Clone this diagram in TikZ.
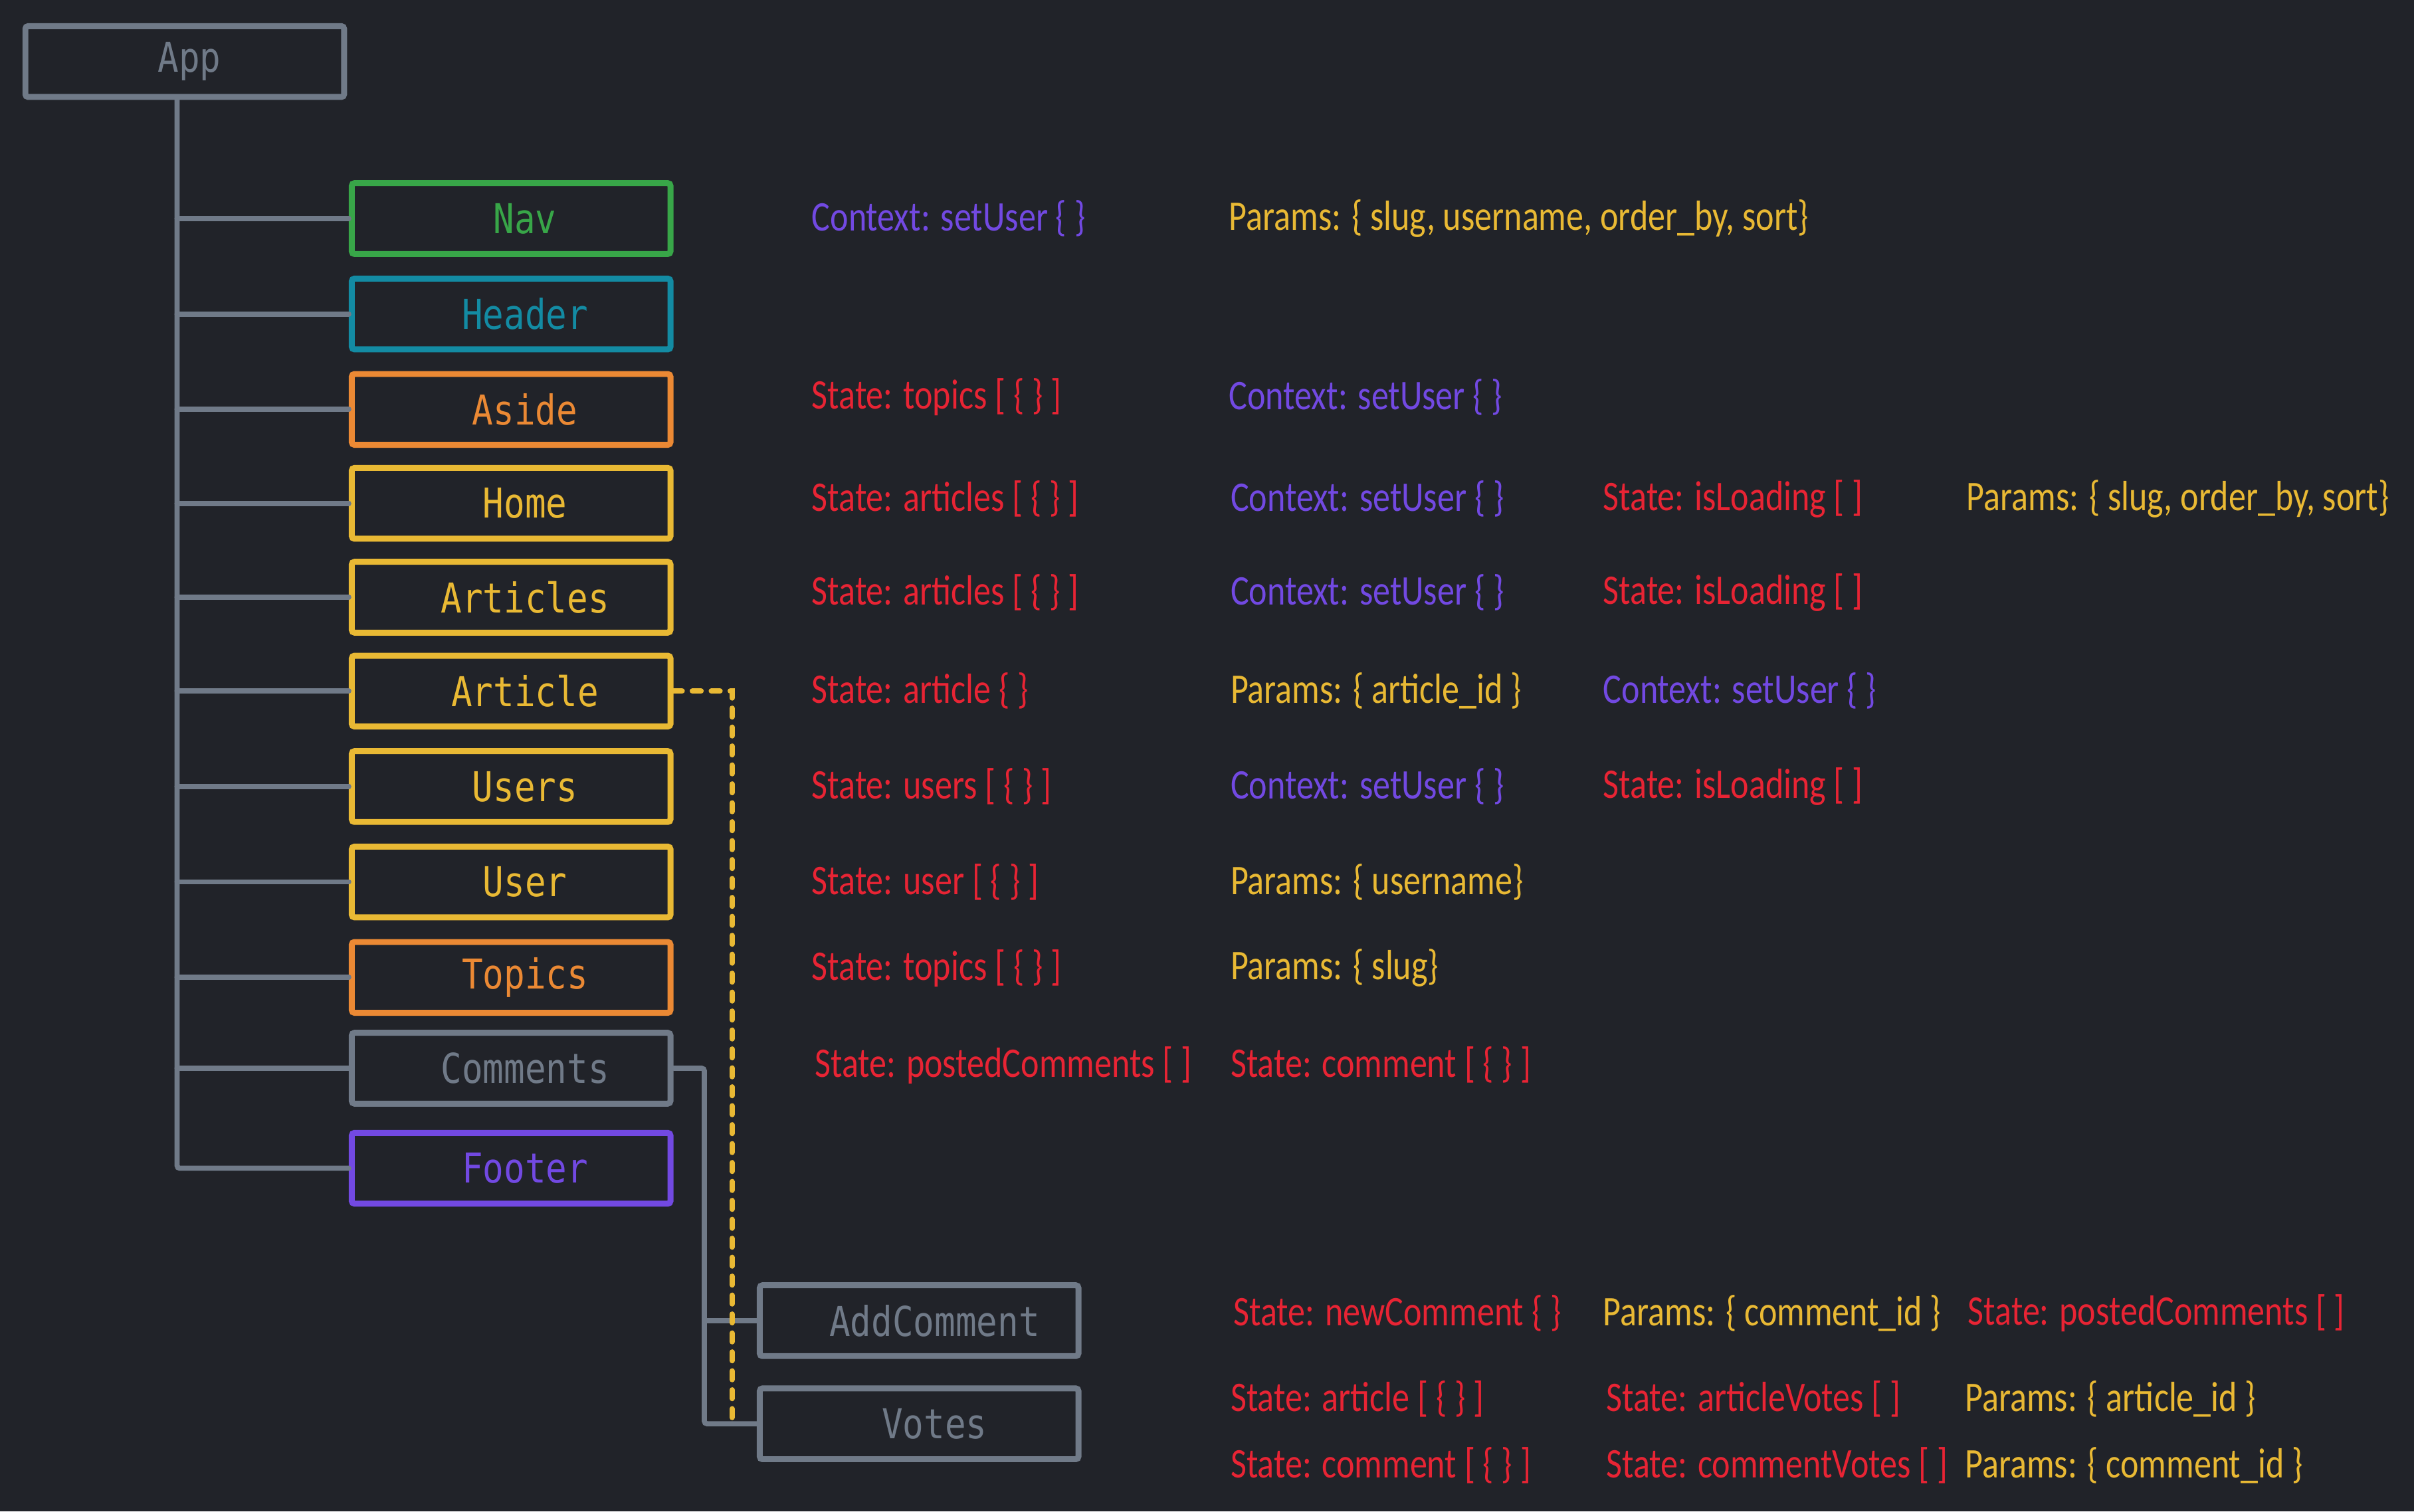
\documentclass[tikz,border=0pt]{standalone}
\usepackage{fontspec}
\setmainfont{Carlito}[FakeStretch=0.82]
\newfontfamily\boxfont{DejaVu Sans Mono}[FakeStretch=0.85]
\usepackage{tikz}
\usetikzlibrary{positioning, calc}
\definecolor{bgdark}{RGB}{33,35,41}
\definecolor{slategrey}{RGB}{112,122,136}
\definecolor{navgreen}{RGB}{56,166,72}
\definecolor{headerteal}{RGB}{19,139,163}
\definecolor{pageorange}{RGB}{235,137,52}
\definecolor{viewyellow}{RGB}{233,185,52}
\definecolor{ctxpurple}{RGB}{114,73,226}
\definecolor{statered}{RGB}{232,36,52}

\begin{document}
\begin{tikzpicture}[
    comp/.style={rectangle, line width=2.2pt, rounded corners=1pt,
                 minimum width=4.14cm, minimum height=0.92cm, inner sep=0pt,
                 font=\boxfont\fontsize{15.2}{16}\selectfont,
                 execute at begin node={\hspace*{#1}}},
    comp/.default=0.36cm,
    link/.style={draw=slategrey, line width=1.9pt, line cap=round, rounded corners=1pt},
    passdown/.style={draw=viewyellow, line width=2pt, line cap=round,
                     dash pattern=on 3.2pt off 3.8pt},
    prop lbl/.style={anchor=west, inner sep=0pt, font=\fontsize{15.6}{17}\selectfont},
    state lbl/.style={prop lbl, text=statered},
    ctx lbl/.style={prop lbl, text=ctxpurple},
    param lbl/.style={prop lbl, text=viewyellow},
  ]

  % ============ CANVAS ============
  \fill[bgdark] (0,0) rectangle (31.36,-19.64);
  \useasboundingbox (0,0) rectangle (31.36,-19.64);

  % ============ COMPONENT TREE ============
  \node[comp=0.12cm, draw=slategrey, text=slategrey] (app) at (2.4,-0.8) {App};

  \node[comp, draw=navgreen, text=navgreen]       (nav)      at (6.64,-2.84)  {Nav};
  \node[comp, draw=headerteal, text=headerteal]   (header)   at (6.64,-4.08)  {Header};
  \node[comp, draw=pageorange, text=pageorange]   (aside)    at (6.64,-5.32)  {Aside};
  \node[comp, draw=viewyellow, text=viewyellow]   (home)     at (6.64,-6.54)  {Home};
  \node[comp, draw=viewyellow, text=viewyellow]   (articles) at (6.64,-7.76)  {Articles};
  \node[comp, draw=viewyellow, text=viewyellow]   (article)  at (6.64,-8.98)  {Article};
  \node[comp, draw=viewyellow, text=viewyellow]   (users)    at (6.64,-10.22) {Users};
  \node[comp, draw=viewyellow, text=viewyellow]   (user)     at (6.64,-11.46) {User};
  \node[comp, draw=pageorange, text=pageorange]   (topics)   at (6.64,-12.70) {Topics};
  \node[comp, draw=slategrey, text=slategrey]     (comments) at (6.64,-13.88) {Comments};
  \node[comp, draw=ctxpurple, text=ctxpurple]     (footer)   at (6.64,-15.18) {Footer};

  \node[comp=0.4cm, draw=slategrey, text=slategrey] (addcomment) at (11.94,-17.16) {AddComment};
  \node[comp=0.4cm, draw=slategrey, text=slategrey] (votes)      at (11.94,-18.50) {Votes};

  % trunk under App, branches to each child
  \coordinate (trunk) at (2.30,0);
  \draw[link] (app.south -| trunk) -- (trunk |- footer.west) -- (footer.west);
  \foreach \child in {nav, header, aside, home, articles, article, users, user, topics, comments}
    \draw[link] (trunk |- \child.west) -- (\child.west);

  % Comments -> AddComment / Votes
  \coordinate (cbus) at (9.15,0);
  \draw[link] (comments.east) -| (cbus |- votes.west) -- (votes.west);
  \draw[link] (cbus |- addcomment.west) -- (addcomment.west);

  % Article passes its data down to Votes
  \coordinate (dbus) at (9.51,0);
  \draw[passdown] (article.east) -| (dbus |- votes.west);

  % ============ STATE / CONTEXT / PARAMS ============
  % Nav
  \node[ctx lbl]   (nav-ctx) at (10.54,-2.84) {Context: setUser \{ \}};
  \node[param lbl] (nav-par) at (15.96,-2.84) {Params: \{ slug, username, order\_by, sort\}};

  % Aside
  \node[state lbl] (aside-st)  at (10.54,-5.16) {State: topics [ \{ \} ]};
  \node[ctx lbl]   (aside-ctx) at (15.96,-5.16) {Context: setUser \{ \}};

  % Home
  \node[state lbl] (home-st)   at (10.54,-6.48) {State: articles [ \{ \} ]};
  \node[ctx lbl]   (home-ctx)  at (15.98,-6.48) {Context: setUser \{ \}};
  \node[state lbl] (home-load) at (20.82,-6.48) {State: isLoading [ ]};
  \node[param lbl] (home-par)  at (25.54,-6.48) {Params: \{ slug, order\_by, sort\}};

  % Articles
  \node[state lbl] (articles-st)   at (10.54,-7.70) {State: articles [ \{ \} ]};
  \node[ctx lbl]   (articles-ctx)  at (15.98,-7.70) {Context: setUser \{ \}};
  \node[state lbl] (articles-load) at (20.82,-7.70) {State: isLoading [ ]};

  % Article
  \node[state lbl] (article-st)  at (10.54,-8.98) {State: article \{ \}};
  \node[param lbl] (article-par) at (15.98,-8.98) {Params: \{ article\_id \}};
  \node[ctx lbl]   (article-ctx) at (20.82,-8.98) {Context: setUser \{ \}};

  % Users
  \node[state lbl] (users-st)   at (10.54,-10.22) {State: users [ \{ \} ]};
  \node[ctx lbl]   (users-ctx)  at (15.98,-10.22) {Context: setUser \{ \}};
  \node[state lbl] (users-load) at (20.82,-10.22) {State: isLoading [ ]};

  % User
  \node[state lbl] (user-st)  at (10.54,-11.46) {State: user [ \{ \} ]};
  \node[param lbl] (user-par) at (15.98,-11.46) {Params: \{ username\}};

  % Topics
  \node[state lbl] (topics-st)  at (10.54,-12.58) {State: topics [ \{ \} ]};
  \node[param lbl] (topics-par) at (15.98,-12.58) {Params: \{ slug\}};

  % Comments
  \node[state lbl] (comments-posted) at (10.58,-13.84) {State: postedComments [ ]};
  \node[state lbl] (comments-st)     at (15.98,-13.84) {State: comment [ \{ \} ]};

  % AddComment
  \node[state lbl] (add-st)     at (16.02,-17.06) {State: newComment \{ \}};
  \node[param lbl] (add-par)    at (20.82,-17.06) {Params: \{ comment\_id \}};
  \node[state lbl] (add-posted) at (25.56,-17.06) {State: postedComments [ ]};

  % Votes
  \node[state lbl] (votes-art)      at (15.98,-18.18) {State: article [ \{ \} ]};
  \node[state lbl] (votes-artvotes) at (20.86,-18.18) {State: articleVotes [ ]};
  \node[param lbl] (votes-artpar)   at (25.52,-18.18) {Params: \{ article\_id \}};
  \node[state lbl] (votes-com)      at (15.98,-19.04) {State: comment [ \{ \} ]};
  \node[state lbl] (votes-comvotes) at (20.86,-19.04) {State: commentVotes [ ]};
  \node[param lbl] (votes-compar)   at (25.52,-19.04) {Params: \{ comment\_id \}};

\end{tikzpicture}
\end{document}
